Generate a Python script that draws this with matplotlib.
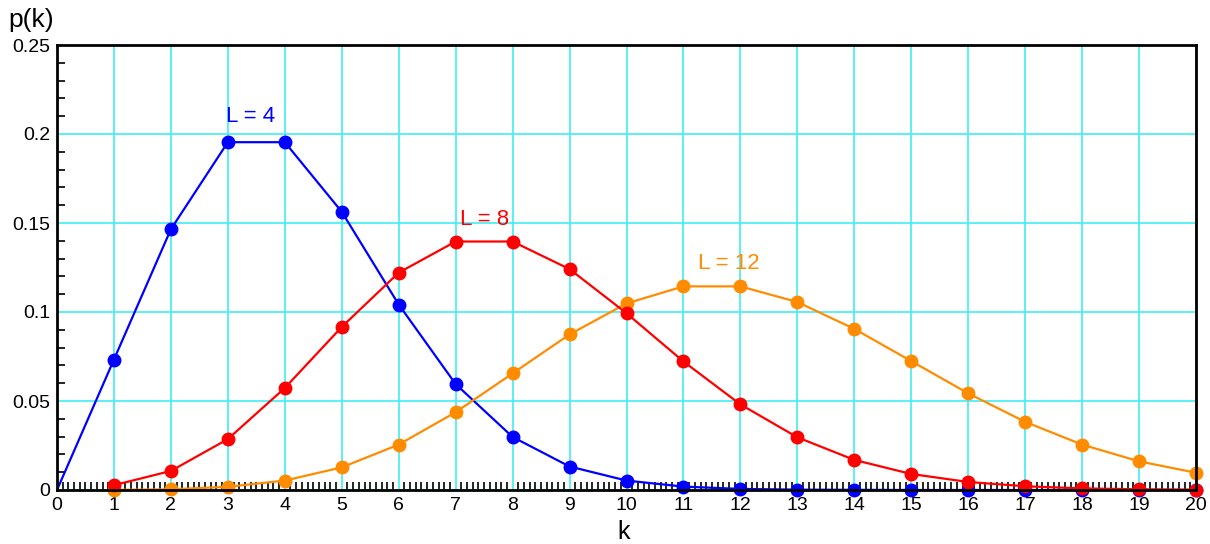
import numpy as np
import matplotlib.pyplot as plt
from matplotlib.ticker import MultipleLocator

plt.rcParams['font.family'] = ['Liberation Sans', 'DejaVu Sans']

k = list(range(1, 21))
p4 = [0.0733, 0.1465, 0.1954, 0.1954, 0.1563, 0.1042, 0.0595, 0.0298, 0.0132, 0.0053,
      0.0019, 0.0006, 0.0002, 0.0001, 0.0, 0.0, 0.0, 0.0, 0.0, 0.0]
p8 = [0.0027, 0.0107, 0.0286, 0.0573, 0.0916, 0.1221, 0.1396, 0.1396, 0.1241, 0.0993,
      0.0722, 0.0481, 0.0296, 0.0169, 0.0090, 0.0045, 0.0021, 0.0009, 0.0004, 0.0002]
p12 = [0.0001, 0.0004, 0.0018, 0.0053, 0.0127, 0.0255, 0.0437, 0.0655, 0.0874, 0.1048,
       0.1144, 0.1144, 0.1056, 0.0905, 0.0724, 0.0543, 0.0383, 0.0255, 0.0161, 0.0097]
labels = ['L = 4', 'L = 8', 'L = 12']
label_pos = [(3.4, 0.2096), (7.5, 0.1517), (11.8, 0.127)]
colors = ['#0000ff', '#ff0000', '#ff8c00']

fig = plt.figure(figsize=(12.1, 5.44), dpi=100)
ax = fig.add_axes([57/1210, 54/544, 1139/1210, 445/544])

# blue curve starts from the origin without a marker
ax.plot([0] + k, [0.0] + p4, color=colors[0], lw=1.6, zorder=3)
ax.plot(k, p4, 'o', color=colors[0], ms=9, zorder=3, clip_on=False)
ax.plot(k, p12, '-o', color=colors[2], lw=1.6, ms=9, zorder=3, clip_on=False)
ax.plot(k, p8, '-o', color=colors[1], lw=1.6, ms=9, zorder=4, clip_on=False)

for lab, (x, y), c in zip(labels, label_pos, colors):
    ax.text(x, y, lab, color=c, fontsize=16, ha='center', va='center')

ax.set_xlim(0, 20)
ax.set_ylim(0, 0.25)
ax.xaxis.set_major_locator(MultipleLocator(1))
ax.xaxis.set_minor_locator(MultipleLocator(0.1))
ax.yaxis.set_minor_locator(MultipleLocator(0.01))
ax.set_yticks([0, 0.05, 0.1, 0.15, 0.2, 0.25])
ax.set_yticklabels(['0', '0.05', '0.1', '0.15', '0.2', '0.25'])
ax.grid(True, which='major', color='#40eef4', lw=1.2, zorder=1)
ax.tick_params(which='both', direction='in', labelsize=14, width=1.2)
ax.tick_params(which='major', length=0, pad=5)
ax.tick_params(which='minor', length=6)
for s in ax.spines.values():
    s.set_linewidth(2)
    s.set_zorder(5)

fig.text(31/1210, 1 - 20/544, 'p(k)', fontsize=19, ha='center', va='center')
fig.text(624/1210, 1 - 532/544, 'k', fontsize=18, ha='center', va='center')

fig.savefig('out.png', dpi=100)
